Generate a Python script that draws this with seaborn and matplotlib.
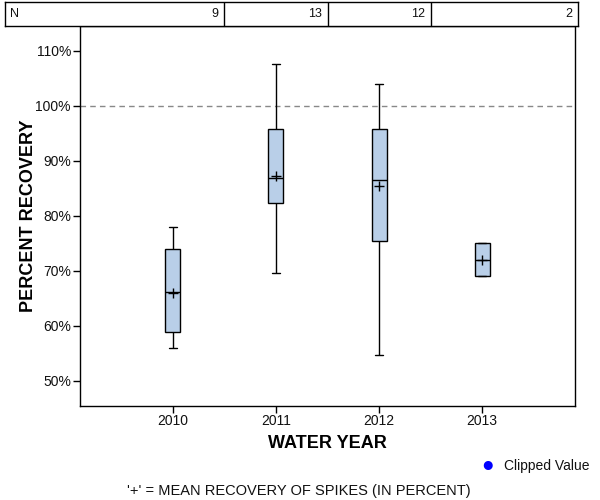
import numpy as np
import pandas as pd
import matplotlib
matplotlib.use("Agg")
import matplotlib.pyplot as plt
import seaborn as sns

years = ["2010", "2011", "2012", "2013"]
counts = [9, 13, 12, 2]
# five-number summaries: min, q1, median, q3, max (percent)
whisker_low = [55.9, 69.5, 54.7, 69.0]
q1 = [58.8, 82.3, 75.4, 69.0]
median = [66.1, 86.8, 86.5, 72.0]
q3 = [73.9, 95.7, 95.8, 75.0]
whisker_high = [77.9, 107.5, 104.0, 75.0]
means = [66.0, 87.3, 85.4, 72.0]
yticks = [50, 60, 70, 80, 90, 100, 110]

sns.set_theme(style="white")
plt.rcParams['font.family'] = ['Liberation Sans', 'DejaVu Sans']

rows = []
for i, y in enumerate(years):
    for v in (whisker_low[i], q1[i], median[i], q3[i], whisker_high[i]):
        rows.append({"year": y, "value": v})
df = pd.DataFrame(rows)
mdf = pd.DataFrame({"year": years, "mean": means})

fig = plt.figure(figsize=(6, 5), dpi=100)
ax = fig.add_axes([80/600, 1-406/500, 495/600, 380/500])

sns.boxplot(data=df, x="year", y="value", order=years, whis=(0, 100),
            width=0.146, color="#B9CFE8", saturation=1, linecolor="black",
            linewidth=1.0, fliersize=0, ax=ax,
            capprops=dict(color="black", linewidth=1.0),
            whiskerprops=dict(color="black", linewidth=1.0),
            medianprops=dict(color="black", linewidth=1.0),
            boxprops=dict(edgecolor="black", linewidth=1.0))
sns.scatterplot(data=mdf, x="year", y="mean", marker="+", s=55, color="black",
                linewidth=1.0, ax=ax, zorder=5, legend=False)

ax.axhline(100, color="#888888", linestyle=(0, (4, 3)), linewidth=1.0, zorder=0)

ax.set_xlim(-0.9, 3.9)
ax.set_ylim(45.4, 114.5)
ax.set_yticks(yticks)
ax.set_yticklabels([f"{t}%" for t in yticks])
ax.tick_params(axis="both", which="both", direction="out", length=5, width=1,
               color="black", labelsize=10, labelcolor="#111111", left=True, bottom=True)
ax.tick_params(axis="y", pad=1.5)
ax.tick_params(axis="x", pad=1)
for sp in ax.spines.values():
    sp.set_color("black")
    sp.set_linewidth(1.0)
ax.set_xlabel("WATER YEAR", fontsize=13, fontweight="bold", labelpad=5, color="black")
ax.set_ylabel("PERCENT RECOVERY", fontsize=13, fontweight="bold", labelpad=-1, color="black")

# Table of counts above
tax = fig.add_axes([5/600, 1-26/500, 573/600, 24/500])
px = 495/4.8
tax.set_xlim(-0.9 - 75/px, 3.9 + 3/px)
tax.set_ylim(0, 1)
tax.set_xticks([]); tax.set_yticks([])
for sp in tax.spines.values():
    sp.set_color("black"); sp.set_linewidth(1.0)
for b in [0.5, 1.5, 2.5]:
    tax.axvline(b, color="black", linewidth=1.0)
tax.text(-0.9 - 75/px + 5/px, 0.5, "N", ha="left", va="center", fontsize=9, color="#111111")
right_edges = [0.5, 1.5, 2.5, 3.9 + 3/px]
for r, c in zip(right_edges, counts):
    tax.text(r - 6/px, 0.5, str(c), ha="right", va="center", fontsize=9, color="#111111")

# legend and footnote
fig.text(488/600, 1-465/500, "\u25CF", color="#0000FF", fontsize=15, ha="center", va="center")
fig.text(504/600, 1-466/500, "Clipped Value", fontsize=10, ha="left", va="center", color="#111111")
fig.text(299/600, 1-491/500, "'+' = MEAN RECOVERY OF SPIKES (IN PERCENT)", fontsize=10.5,
         ha="center", va="center", color="#111111")

fig.savefig("out.png", dpi=100)
